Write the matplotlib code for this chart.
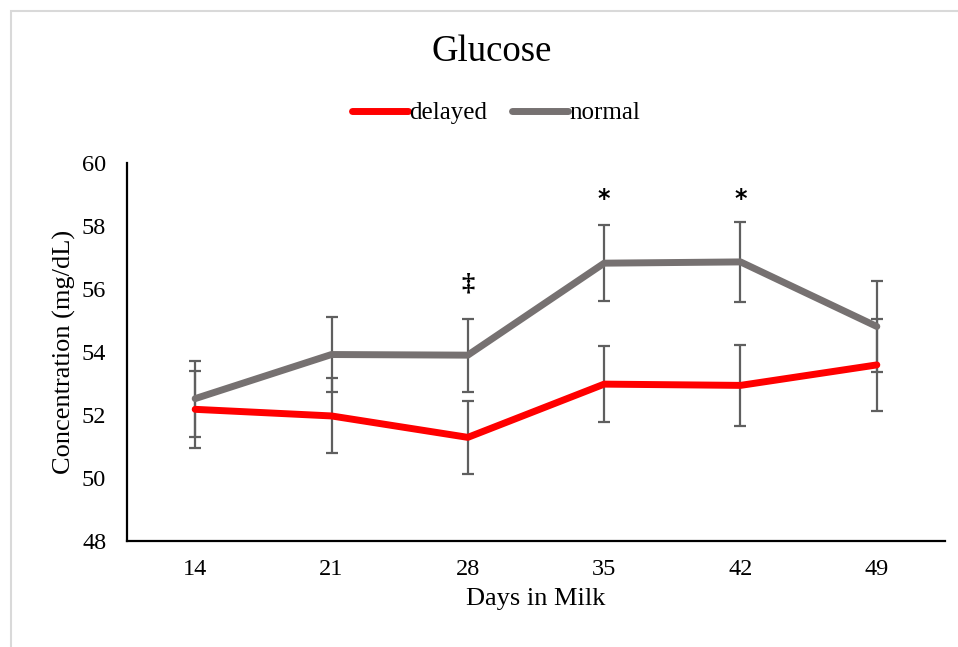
import matplotlib
matplotlib.use("Agg")
import matplotlib.pyplot as plt
from matplotlib.patches import Rectangle

plt.rcParams['font.family'] = ['Liberation Serif', 'DejaVu Serif']

days = ["14", "21", "28", "35", "42", "49"]
delayed = [52.18, 51.97, 51.29, 52.98, 52.94, 53.59]
delayed_err = [1.22, 1.19, 1.15, 1.21, 1.28, 1.45]
normal = [52.52, 53.92, 53.90, 56.82, 56.86, 54.81]
normal_err = [1.21, 1.19, 1.16, 1.20, 1.26, 1.45]
marks = {"28": ("\u2021", 56.15), "35": ("*", 58.85), "42": ("*", 58.85)}

fig = plt.figure(figsize=(9.58, 6.47), dpi=100)
ax = fig.add_axes([127 / 958, 1 - 541 / 647, 818 / 958, 378 / 647])

x = list(range(len(days)))
err_color = "#5f5f5f"
ax.errorbar(x, normal, yerr=normal_err, fmt="none", ecolor=err_color,
            elinewidth=1.6, capsize=4.5, capthick=1.6, zorder=2)
ax.errorbar(x, delayed, yerr=delayed_err, fmt="none", ecolor=err_color,
            elinewidth=1.6, capsize=4.5, capthick=1.6, zorder=2)
ax.plot(x, delayed, color="#ff0000", lw=5, solid_capstyle="round",
        label="delayed", zorder=3)
ax.plot(x, normal, color="#767171", lw=5, solid_capstyle="round",
        label="normal", zorder=3)

for i, d in enumerate(days):
    if d in marks:
        sym, yv = marks[d]
        if sym == "*":
            ax.text(i, yv, sym, ha="center", va="center", fontsize=17,
                    fontweight="bold", family=["DejaVu Sans"])
        else:
            ax.text(i, yv, sym, ha="center", va="center", fontsize=19,
                    fontweight="bold")

ax.set_xlim(-0.5, len(days) - 0.5)
ax.set_ylim(48, 60)
ax.set_yticks(range(48, 61, 2))
ax.set_xticks(x)
ax.set_xticklabels(days)
ax.tick_params(axis="both", length=0, labelsize=17.5)
ax.tick_params(axis="x", pad=13)
ax.tick_params(axis="y", pad=15)
for s in ("top", "right"):
    ax.spines[s].set_visible(False)
for s in ("left", "bottom"):
    ax.spines[s].set_linewidth(1.6)
    ax.spines[s].set_color("black")

ax.set_xlabel("Days in Milk", fontsize=19, labelpad=6)
ax.set_ylabel("Concentration (mg/dL)", fontsize=19, labelpad=4)

fig.text(492 / 958, 1 - 52 / 647, "Glucose", ha="center", va="center", fontsize=26.5)
leg = fig.legend(loc="center", bbox_to_anchor=(496 / 958, 1 - 113 / 647), ncol=2,
                 frameon=False, fontsize=18, handlelength=2.25, handletextpad=0.05,
                 columnspacing=1.0)

fig.patches.append(Rectangle((10.5 / 958, -0.1), 1.2, 1 - 10.5 / 647 + 0.1,
                             transform=fig.transFigure, fill=False,
                             edgecolor="#d9d9d9", lw=1.5))

fig.savefig("out.png", dpi=100)
